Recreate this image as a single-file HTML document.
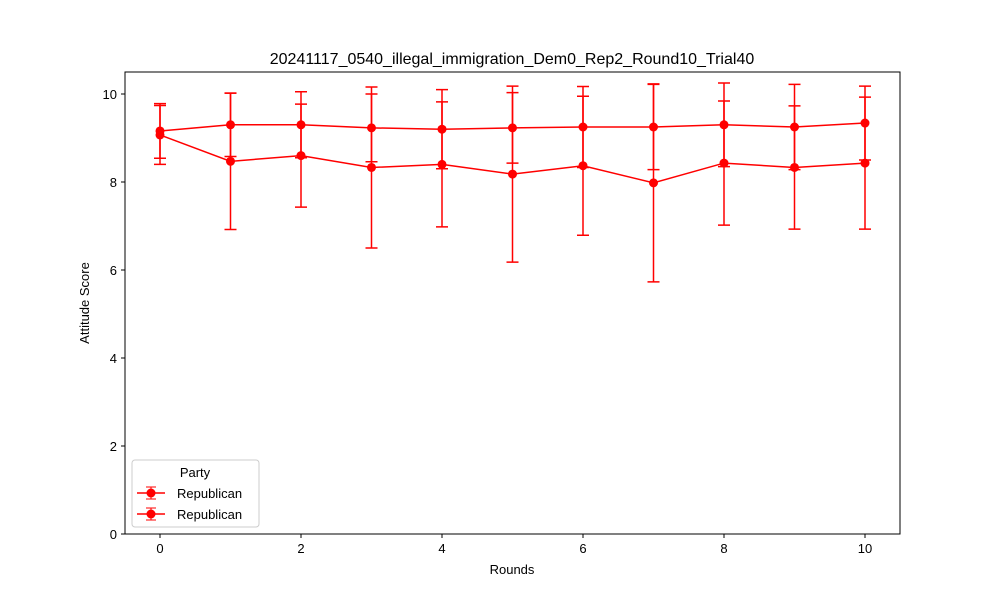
<!DOCTYPE html>
<html><head><meta charset="utf-8"><style>
body{margin:0;background:#fff;font-family:"Liberation Sans","DejaVu Sans",sans-serif}
</style></head><body>
<svg width="1000" height="600" xmlns="http://www.w3.org/2000/svg">
<rect width="1000" height="600" fill="#fff"/>
<text x="512" y="64" font-size="16" text-anchor="middle">20241117_0540_illegal_immigration_Dem0_Rep2_Round10_Trial40</text>
<g id="plot"></g>
<rect x="125" y="72" width="775" height="462" fill="none" stroke="#000" stroke-width="1"/>
<text x="512" y="574" font-size="13" text-anchor="middle">Rounds</text>
<text transform="translate(89,303) rotate(-90)" font-size="13" text-anchor="middle">Attitude Score</text>
<g>
<rect x="132" y="460" width="127" height="67" rx="3" fill="#fff" stroke="#ccc"/>
<text x="195" y="477" font-size="13" text-anchor="middle">Party</text>
<g>
<line x1="137" y1="493" x2="165" y2="493" stroke="red" stroke-width="1.5"/><line x1="151" y1="487" x2="151" y2="499" stroke="red"/><line x1="146" y1="487" x2="156" y2="487" stroke="red"/><line x1="146" y1="499" x2="156" y2="499" stroke="red"/><circle cx="151" cy="493" r="4.5" fill="red"/>
<text x="177" y="498" font-size="13">Republican</text></g>
<g>
<line x1="137" y1="514" x2="165" y2="514" stroke="red" stroke-width="1.5"/><line x1="151" y1="508" x2="151" y2="520" stroke="red"/><line x1="146" y1="508" x2="156" y2="508" stroke="red"/><line x1="146" y1="520" x2="156" y2="520" stroke="red"/><circle cx="151" cy="514" r="4.5" fill="red"/>
<text x="177" y="519" font-size="13">Republican</text></g>
</g>
</svg>
<script>
const rounds=[0,1,2,3,4,5,6,7,8,9,10];
const meanA=[9.16,9.30,9.30,9.23,9.20,9.23,9.25,9.25,9.30,9.25,9.34];
const errA=[0.62,0.72,0.75,0.77,0.90,0.80,0.92,0.97,0.95,0.97,0.84];
const meanB=[9.07,8.47,8.60,8.33,8.40,8.18,8.37,7.98,8.43,8.33,8.43];
const errB=[0.67,1.55,1.17,1.83,1.42,2.00,1.58,2.25,1.41,1.40,1.50];
const xTicks=[0,2,4,6,8,10];
const yTicks=[0,2,4,6,8,10];
const NS="http://www.w3.org/2000/svg";
const X=v=>160+v*70.5, Y=v=>534-v*44;
const g=document.getElementById('plot');
function mk(t,a,p){const e=document.createElementNS(NS,t);for(const k in a)e.setAttribute(k,a[k]);(p||g).appendChild(e);return e;}
xTicks.forEach(t=>{
 const tk=mk('line',{x1:X(t),x2:X(t),y1:534,y2:538,stroke:'#000'});
 
 
 const l=mk('text',{x:X(t),y:553,'font-size':13,'text-anchor':'middle'});l.textContent=t;
 
 
});
yTicks.forEach(t=>{
 const tk=mk('line',{x1:121,x2:125,y1:Y(t),y2:Y(t),stroke:'#000'});
 
 
 const l=mk('text',{x:117,y:Y(t)+5,'font-size':13,'text-anchor':'end'});l.textContent=t;
 
 
});
function series(mean,err,name){
 const sg=mk('g',{});
 
 
 rounds.forEach((r,i)=>{
  const x=X(r),t=Y(mean[i]+err[i]),b=Y(mean[i]-err[i]);
  const eb=mk('path',{d:`M${x},${t}V${b}M${x-6},${t}H${x+6}M${x-6},${b}H${x+6}`,stroke:'red','stroke-width':1.5,fill:'none'},sg);
  
  
 });
 const ln=mk('polyline',{points:rounds.map((r,i)=>X(r)+','+Y(mean[i])).join(' '),stroke:'red','stroke-width':1.5,fill:'none'},sg);
 
 
 rounds.forEach((r,i)=>{
  const c=mk('circle',{cx:X(r),cy:Y(mean[i]),r:4.5,fill:'red'},sg);
  
  
 });
}
series(meanA,errA,'series-republican-1');
series(meanB,errB,'series-republican-2');
</script>
</body></html>
